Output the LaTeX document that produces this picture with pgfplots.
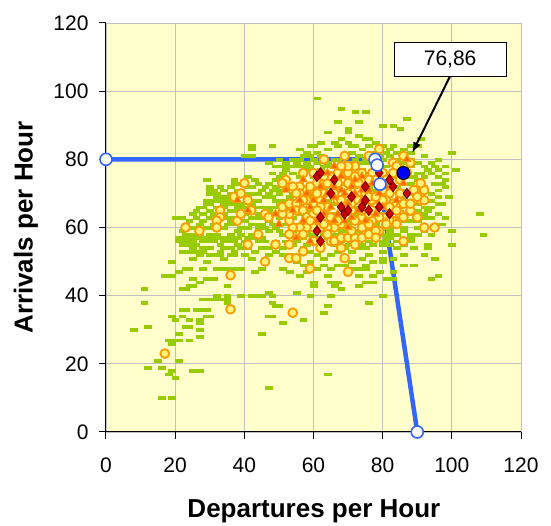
\documentclass[border=0pt]{standalone}
\usepackage{pgfplots}
\pgfplotsset{compat=1.18}
\usetikzlibrary{arrows.meta}
\usepackage{fontspec}
\setmainfont{Liberation Sans}
\definecolor{bgyellow}{RGB}{255,255,204}
\definecolor{greenpt}{RGB}{153,204,0}
\definecolor{orangeB}{RGB}{255,153,0}
\definecolor{yellowF}{RGB}{255,245,120}
\definecolor{triF}{RGB}{255,102,0}
\definecolor{diaF}{RGB}{204,0,0}
\definecolor{diaB}{RGB}{128,0,0}
\definecolor{blueline}{RGB}{51,102,255}
\definecolor{gridgray}{RGB}{192,192,192}
\begin{document}
\begin{tikzpicture}
\begin{axis}[
  width=415pt, height=409pt, scale only axis,
  xmin=0, xmax=120, ymin=0, ymax=120,
  xtick={0,20,...,120}, ytick={0,20,...,120},
  axis x line*=bottom, axis y line*=left,
  axis line style={-, black, line width=1pt},
  tick style={black, line width=1pt},
  tick align=outside, major tick length=7pt,
  grid=major, grid style={gridgray, line width=0.8pt},
  axis background/.style={fill=bgyellow},
  clip=false,
  /pgf/number format/assume math mode=true,
  ticklabel style={font=\fontsize{21}{25}\selectfont},
  yticklabel style={xshift=-7pt},
  xticklabel style={yshift=-15pt},
  xlabel={Departures per Hour}, ylabel={Arrivals per Hour},
  label style={font=\bfseries\fontsize{26}{30}\selectfont},
  xlabel style={at={(axis description cs:0.501,-0.208)}, anchor=base},
  ylabel style={at={(axis description cs:-0.193,0.5)}, anchor=center},
]
% blue line (drawn beneath the scatter)
\addplot[blueline, line width=4.5pt, line join=round, no marks] coordinates {(0,80) (77.8,80) (78.4,78.3) (79.2,72.7) (90,0)};
% green dashes
\addplot[only marks, greenpt, mark=square*, mark size=1.4pt, mark options={draw=greenpt, fill=greenpt, line width=0.1pt, xscale=2.4}] coordinates {
(61,98)(68,95)(72,94)(75,94)(67,91)(73,91)(87,92)(80,90)(83,90)(85,89)(70,89)(64,88)(70,88)(73,87)(75,86)(76,86)(91,86)(100,82)(88,84)(42,84)(42,83)(48,84)(59,84)(67,84)(71,84)(83,84)
(95,78)(98,78)(101,77)(93,77)(90,76)(96,75)(98,74)(95,73)(97,73)(96,69)(99,69)(94,66)(97,67)(93,65)(92,63)(97,61)(100,59)(100,55)(108,64)(109,58)(93,55)(95,51)(93,54)(92,52)(96,46)(94,45)(89,49)(86,49)(83,51)(83,45)(83,47)(80,40)(76,38)(77,44)(75,44)(73,43)(75,48)(73,46)(71,48)(74,51)(76,52)(80,51)(82,55)(84,54)(86,52)(88,56)(90,58)(89,54)
(67,44)(66,43)(65,44)(68,42)(64,46)(60,44)(60,43)(59,40)(65,40)(64,37)(63,35)(57,33)(51,32)(55,41)(56,46)(58,47)(53,47)(51,48)(50,37)(48,38)(49,37)(47,41)(48,40)(45,40)(42,40)(39,40)(45,29)(47,13)(64,17)(47,34)(48,34)
(8,30)(11,42)(11,38)(12,31)(12,19)(15,21)(16,19)(16,10)(19,10)(18,27)(19,27)(19,26)(18,17)(20,16)(19,18)(21,21)(19,34)(20,33)(21,29)(21,27)(24,27)(23,31)(24,33)(26,36)(23,36)(22,34)(27,33)(27,32)(27,30)(27,28)(25,18)(27,18)(30,34)(28,39)(30,39)(28,36)(32,40)(35,39)(35,38)(17,46)(19,46)(19,50)(22,42)(24,43)(25,45)(27,44)(29,45)(31,45)(28,48)(32,48)(35,48)(37,48)(23,48)(25,51)(22,53)(29,50)(34,51)(37,52)(40,52)(39,48)(42,51)(45,48)(43,47)(32,39)(34,39)(35,40)(39,40)(44,40)(22,36)(26,36)(29,36)(29,34)(24,31)(21,47)(24,48)(27,52)(33,52)(36,52)(33,48)(35,43)(25,43)(23,42)
(20,63)(22,63)(21,56)(22,57)(23,58)(25,54)(22,55)(24,55)(26,55)(28,56)(30,58)(25,64)(27,66)(29,67)(29,74)(30,71)(34,69)(36,72)(31,64)(35,67)(28,62)(30,60)(32,58)(34,56)(36,54)(38,55)(40,56)(42,58)(40,60)(38,59)(36,58)(34,60)(36,62)(34,63)(32,64)(40,62)(42,61)(44,60)(47,59)(44,63)(47,66)(44,70)(47,73)(49,74)(43,74)(42,72)(49,78)(51,78)(53,78)(51,76)(55,79)(57,81)(59,81)(58,82)(61,82)(61,79)(40,81)(42,81)(47,79)(47,54)(49,56)(51,54)(51,58)(49,60)(47,62)(34,54)(32,52)(30,54)(28,54)(26,58)(26,60)(24,58)(24,60)(22,59)(38,66)(42,67)(44,68)(47,70)(49,68)(49,66)(51,68)(53,69)
(29,74)(37,74)(41,75)(30,72)(31,71)(32,69)(35,69)(37,67)(27,66)(25,64)(28,62)(30,67)(32,66)(34,67)
(21,57)(23,56)(24,57)(25,56)(26,57)(27,58)(28,57)(29,56)(30,57)(31,56)(32,57)(33,55)(34,57)(35,56)(36,57)(37,56)(38,57)(39,58)(41,57)(43,57)(44,56)(45,57)(46,56)
(23,61)(25,60)(27,61)(29,60)(31,61)(33,60)(35,61)(37,61)(39,60)(41,60)(43,61)(45,61)(46,60)(48,61)
(24,62)(26,63)(28,64)(30,63)(32,62)(34,64)(36,63)(38,63)(40,64)(42,63)(44,64)(46,63)(48,64)
(26,65)(28,66)(30,65)(32,66)(34,66)(36,65)(38,65)(40,66)(43,66)(45,66)(47,65)(49,64)
(29,68)(31,68)(33,68)(35,68)(37,68)(39,67)(41,69)(43,68)(46,69)(48,69)
(30,70)(32,70)(34,71)(36,70)(38,71)(40,70)(42,70)(45,71)(48,71)(50,71)
(33,72)(37,73)(39,73)(41,72)(44,73)(46,72)(49,72)(51,73)
(24,53)(26,53)(28,53)(30,52)(33,53)(35,54)(37,53)(39,54)(41,54)(43,53)(45,54)(47,52)(49,53)(51,52)
(55,78)(57,78)(59,78)(63,78)(65,78)(67,80)(69,81)(71,82)(73,81)(75,80)(77,82)(79,81)(81,82)(81,78)(85,78)(88,78)(89,75)(91,76)(90,72)(88,70)(89,67)(90,65)(88,62)(86,60)(84,58)(82,59)(81,57)(80,55)(77,55)(75,54)(73,54)(71,53)(69,54)(67,53)(65,52)(63,51)(61,52)(59,53)(57,54)(55,56)(57,57)(59,58)(61,57)(63,58)(65,57)(67,58)(69,59)(71,58)(73,59)(75,58)(77,59)(79,58)(71,50)(69,49)(67,49)(65,48)(63,49)(61,48)(59,50)(57,49)(55,50)(53,52)(77,50)(75,49)(73,48)(79,47)(81,45)(77,46)
(56,83)(60,84)(62,85)(64,83)(66,85)(68,86)(70,85)(72,84)(74,83)(76,84)(78,85)(80,84)(82,83)(84,82)(86,83)(88,82)(90,84)(92,81)
(50,80)(52,79)(54,80)(56,80)(58,79)(60,80)(62,81)(64,79)(66,80)(68,79)(70,79)(72,80)(74,79)(76,79)(78,78)(80,80)(82,81)(84,80)(86,79)(88,80)(90,79)(92,78)(94,79)(96,80)
(48,76)(50,75)(52,77)(54,76)(56,75)(58,77)(60,75)(62,77)(64,75)(66,76)(68,77)(70,75)(72,76)(74,77)(76,75)(78,77)(80,75)(82,76)(84,75)(86,77)(88,75)(90,74)(92,75)(94,76)(96,77)(98,76)
(50,70)(52,72)(54,70)(56,73)(58,72)(60,70)(62,71)(64,72)(66,71)(68,73)(70,71)(72,72)(74,73)(76,72)(78,71)(80,72)(82,73)(84,72)(86,71)(88,73)(90,71)(92,72)(94,70)(96,71)(98,72)
(50,67)(52,66)(54,68)(56,67)(58,66)(60,69)(62,67)(64,68)(66,67)(68,69)(70,68)(72,66)(74,69)(76,67)(78,68)(80,69)(82,67)(84,66)(86,69)(88,68)(90,67)(92,66)(94,68)(96,67)
(50,63)(52,65)(54,63)(56,64)(58,65)(60,62)(62,65)(64,62)(66,64)(68,63)(70,62)(72,64)(74,62)(76,63)(78,62)(80,64)(82,65)(84,63)(86,62)(88,64)(90,62)(92,64)(94,63)(96,64)(98,63)
(50,59)(52,61)(54,59)(56,61)(58,59)(60,58)(62,59)(64,61)(66,58)(68,59)(70,61)(72,59)(74,58)(76,60)(78,61)(80,58)(82,60)(84,61)(86,59)(88,58)(90,60)(92,59)(94,58)
(52,56)(54,55)(56,57)(58,55)(60,56)(62,55)(64,57)(66,55)(68,56)(70,55)(72,57)(74,55)(76,56)(78,57)(80,56)(82,57)(84,56)(86,55)(88,57)
(82,62)(81,60)(82,58)(81,56)(80,53)(80,50)(82,57)(85,66)(87,64)(83,68)
};
% orange circles
\addplot[only marks, orangeB, mark=*, mark size=4.4pt, mark options={draw=orangeB, fill=yellowF, line width=1.8pt}] coordinates {
(79,83)(76,81)(69,81)(63,80)(86,81)(88,79)(72,78)(83,79)(57,76)(60,76)(52,74)(40,73)(37,69)(39,70)(41,68)(42,65)(33,65)(33,63)(32,62)(32,60)(23,60)(27,59)(38,62)(39,64)(46,64)(47,63)(44,58)(41,55)(49,55)(53,55)(53,51)(55,51)(57,53)(59,48)(46,50)(36,46)(36,36)(54,35)(17,23)(69,51)(70,47)(62,54)(65,56)(66,56)(68,57)(70,57)(72,57)(74,57)(76,58)(79,59)(78,59)(86,56)(85,64)(88,65)(90,63)(92,60)(95,60)(91,68)(92,68)(92,71)(91,73)(86,67)(85,70)(82,70)(81,68)(83,67)(81,63)(77,62)(74,63)(71,59)(74,60)(72,62)(68,61)(66,60)(64,60)(62,60)(60,60)(58,60)(56,60)(54,60)(53,58)(53,62)(53,64)(51,64)(51,66)(53,67)(55,67)(55,65)(57,65)(58,63)(60,64)(60,67)(62,68)(63,70)(60,71)(58,71)(56,72)(54,72)(51,73)(61,73)(63,73)(67,76)(70,76)(67,73)(70,73)(73,73)(77,76)(78,74)(75,70)(77,68)(76,64)(71,65)(67,68)(64,66)(64,63)(84,78)(87,76)(83,76)(80,76)(83,62)(82,62)
(56,70)(58,68)(62,66)(64,73)(66,70)(68,68)(70,70)(72,68)(74,65)(76,69)(78,66)(80,68)(82,66)(84,65)(80,71)(78,69)(76,74)(74,76)(72,75)(70,78)(68,78)(65,75)(63,75)(61,70)(59,72)(57,68)(55,70)(59,62)(61,65)(63,61)(65,63)(67,62)(69,66)(71,67)(73,68)(75,66)(77,65)(79,63)(81,61)(84,61)(86,63)(88,67)(89,71)(90,69)(85,74)(81,74)(79,72)(57,58)(60,56)(64,58)(68,54)(72,55)(76,61)(78,57)
};
% orange triangles
\addplot[only marks, orangeB, mark=triangle*, mark size=4.4pt, mark options={draw=orangeB, fill=triF, line width=1pt}] coordinates {
(66,78)(57,74)(52,71)(49,64)(50,61)(55,57)(59,56)(38,68)(41,65)(86,73)(87,80)(74,75)
(62,72)(64,70)(66,69)(68,71)(70,67)(72,70)(74,68)(76,71)(65,66)(67,64)(69,62)(71,63)(73,65)(63,64)(60,68)(58,70)(56,68)(59,66)(61,62)(77,73)(79,70)(81,72)(78,64)(80,66)(84,68)(72,74)(68,75)(64,76)(75,62)(70,60)(66,62)(63,68)(57,62)(54,65)(69,70)(71,72)(74,71)(66,72)
};
% red diamonds
\addplot[only marks, diaB, mark=diamond*, mark size=5pt, mark options={draw=diaB, fill=diaF, line width=1pt}] coordinates {
(61,75)(62,76)(66,74)(65,70)(71,69)(75,72)(75,68)(68,66)(69,64)(70,65)(74,66)(76,65)(79,66)(82,74)(83,72)(79,76)(87,70)(82,64)(62,63)(61,59)(62,56)
};
% white markers of blue line
\addplot[only marks, blueline, mark=*, mark size=6pt, mark options={draw=blueline, fill=white, line width=1.6pt}] coordinates {(0,80) (77.8,80) (78.4,78.3) (79.2,72.7) (90,0)};
% blue dot
\addplot[only marks, black, mark=*, mark size=6.5pt, mark options={draw=black, fill=blue, line width=1pt}] coordinates {(86,76)};
\coordinate (arrA) at (axis cs:99.5,104.4);
\coordinate (arrB) at (axis cs:88.5,81.8);
\coordinate (boxC) at (axis cs:99.5,109.4);
\end{axis}
% callout
\draw[-{Latex[length=11pt,width=8pt]}, line width=2pt, black] (arrA) -- (arrB);
\node[draw=black, fill=white, line width=1pt, minimum width=112pt, minimum height=34pt, inner sep=0pt, font=\fontsize{21}{25}\selectfont] at (boxC) {76,86};
\path ([xshift=-106pt,yshift=-91pt]current axis.south west) rectangle ([xshift=30pt,yshift=23pt]current axis.north east);
\end{tikzpicture}
\end{document}
